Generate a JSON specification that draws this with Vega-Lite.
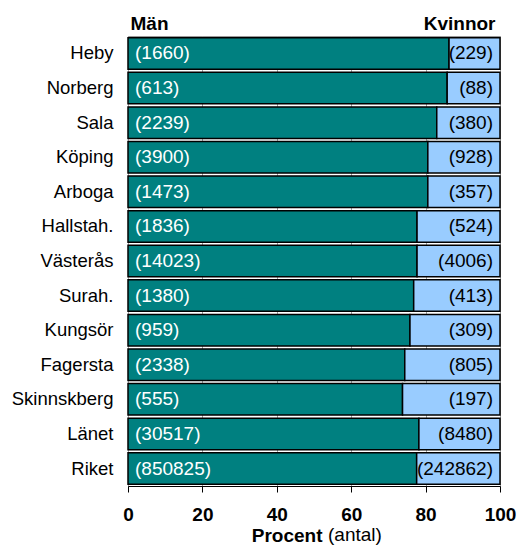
{
  "$schema": "https://vega.github.io/schema/vega-lite/v6.json",
  "width": 372,
  "height": 450,
  "autosize": {"type": "none"},
  "padding": {"left": 128, "top": 36, "right": 17, "bottom": 59},
  "background": "white",
  "config": {"font": "Liberation Sans", "view": {"stroke": "#999999", "strokeWidth": 1}},
  "title": {"text": "(antal)", "orient": "bottom", "anchor": "start", "frame": "group", "dx": 200, "dy": -19, "offset": 0, "fontSize": 19, "fontWeight": "normal", "color": "black", "baseline": "top", "font": "Liberation Sans"},
  "data": {"values": [
    {"kommun": "Heby", "kon": "Män", "procent": 86.3, "antal": 1660},
    {"kommun": "Heby", "kon": "Kvinnor", "procent": 13.7, "antal": 229},
    {"kommun": "Norberg", "kon": "Män", "procent": 85.8, "antal": 613},
    {"kommun": "Norberg", "kon": "Kvinnor", "procent": 14.2, "antal": 88},
    {"kommun": "Sala", "kon": "Män", "procent": 83.0, "antal": 2239},
    {"kommun": "Sala", "kon": "Kvinnor", "procent": 17.0, "antal": 380},
    {"kommun": "Köping", "kon": "Män", "procent": 80.6, "antal": 3900},
    {"kommun": "Köping", "kon": "Kvinnor", "procent": 19.4, "antal": 928},
    {"kommun": "Arboga", "kon": "Män", "procent": 80.6, "antal": 1473},
    {"kommun": "Arboga", "kon": "Kvinnor", "procent": 19.4, "antal": 357},
    {"kommun": "Hallstah.", "kon": "Män", "procent": 77.7, "antal": 1836},
    {"kommun": "Hallstah.", "kon": "Kvinnor", "procent": 22.3, "antal": 524},
    {"kommun": "Västerås", "kon": "Män", "procent": 77.7, "antal": 14023},
    {"kommun": "Västerås", "kon": "Kvinnor", "procent": 22.3, "antal": 4006},
    {"kommun": "Surah.", "kon": "Män", "procent": 76.8, "antal": 1380},
    {"kommun": "Surah.", "kon": "Kvinnor", "procent": 23.2, "antal": 413},
    {"kommun": "Kungsör", "kon": "Män", "procent": 75.8, "antal": 959},
    {"kommun": "Kungsör", "kon": "Kvinnor", "procent": 24.2, "antal": 309},
    {"kommun": "Fagersta", "kon": "Män", "procent": 74.4, "antal": 2338},
    {"kommun": "Fagersta", "kon": "Kvinnor", "procent": 25.6, "antal": 805},
    {"kommun": "Skinnskberg", "kon": "Män", "procent": 73.8, "antal": 555},
    {"kommun": "Skinnskberg", "kon": "Kvinnor", "procent": 26.2, "antal": 197},
    {"kommun": "Länet", "kon": "Män", "procent": 78.2, "antal": 30517},
    {"kommun": "Länet", "kon": "Kvinnor", "procent": 21.8, "antal": 8480},
    {"kommun": "Riket", "kon": "Män", "procent": 77.6, "antal": 850825},
    {"kommun": "Riket", "kon": "Kvinnor", "procent": 22.4, "antal": 242862}
  ]},
  "transform": [{"calculate": "'(' + datum.antal + ')'", "as": "etikett"}],
  "encoding": {
    "y": {"field": "kommun", "type": "nominal", "sort": null,
      "scale": {"paddingInner": 0.09, "paddingOuter": 0.05},
      "axis": {"title": null, "ticks": false, "domain": false, "labelFontSize": 18.5, "labelPadding": 15, "labelColor": "black", "labelFont": "Liberation Sans"}}
  },
  "layer": [
    {
      "mark": {"type": "bar", "stroke": "black", "strokeWidth": 1.5},
      "encoding": {
        "x": {"field": "procent", "type": "quantitative", "stack": "zero", "scale": {"domain": [0, 100]},
          "axis": {"orient": "bottom", "values": [0, 20, 40, 60, 80, 100], "grid": true, "gridColor": "#a0a0a0", "tickColor": "black", "tickSize": 6, "domainColor": "black", "labelFontSize": 19, "labelFontWeight": "bold", "labelColor": "black", "labelPadding": 13, "labelFlush": false, "title": "Procent", "titleFontSize": 19, "titleFontWeight": "bold", "titleColor": "black", "titleX": 194, "titleY": 55, "titleAlign": "right", "titleBaseline": "alphabetic"}},
        "color": {"field": "kon", "type": "nominal", "scale": {"domain": ["Män", "Kvinnor"], "range": ["#008080", "#99CCFF"]}, "legend": null},
        "order": {"field": "kon", "sort": "descending"}
      }
    },
    {
      "transform": [{"filter": "datum.kon == 'Män'"}],
      "mark": {"type": "text", "align": "left", "dx": 7, "color": "white", "fontSize": 19, "baseline": "middle"},
      "encoding": {
        "x": {"datum": 0, "type": "quantitative", "axis": null},
        "text": {"field": "etikett"}
      }
    },
    {
      "transform": [{"filter": "datum.kon == 'Kvinnor'"}],
      "mark": {"type": "text", "align": "right", "dx": -7, "color": "black", "fontSize": 19, "baseline": "middle"},
      "encoding": {
        "x": {"datum": 100, "type": "quantitative",
          "axis": {"orient": "top", "values": [0, 100], "grid": false, "ticks": false, "tickSize": 0, "domain": false, "title": null,
            "labelExpr": "datum.value == 0 ? 'Män' : 'Kvinnor'",
            "labelAlign": {"condition": {"test": "datum.value == 0", "value": "left"}, "value": "right"},
            "labelOffset": {"condition": {"test": "datum.value == 0", "value": 2}, "value": -5},
            "labelBaseline": "alphabetic", "labelPadding": 6.5, "labelFontSize": 19, "labelFontWeight": "bold", "labelColor": "black", "labelFlush": false}},
        "text": {"field": "etikett"}
      }
    }
  ],
  "resolve": {"axis": {"x": "independent"}}
}
